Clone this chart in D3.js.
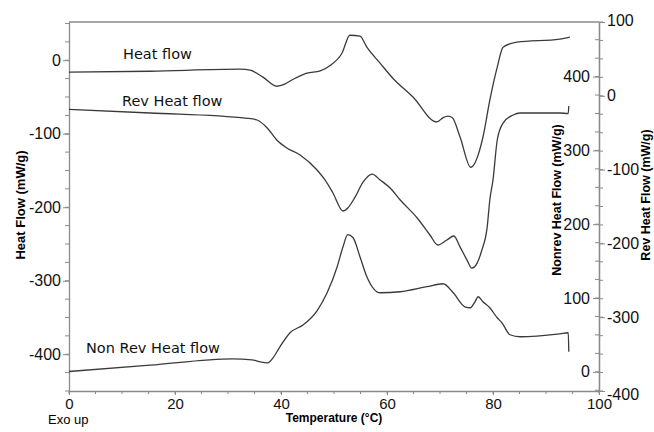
<!DOCTYPE html>
<html><head><meta charset="utf-8">
<script src="https://cdn.jsdelivr.net/npm/d3@7"></script>
<style>
body{margin:0;background:#fff;}
svg{display:block;}
.tick text{font-family:"Liberation Sans",Arial,sans-serif;font-size:16px;fill:#111;}
</style></head>
<body><svg id="c" width="654" height="432"></svg>
<script>
// Temperature (°C)
const heatT = [0,15.3,32.3,34.2,36.6,39.2,40.2,42.3,44.9,47.4,49.2,51.5,53.0,54.9,56.2,58.7,61.1,64.9,69.4,70.6,71.5,72.3,73.8,75.8,78.1,79.4,80.8,81.9,84.5,92.6,94.5];
// Heat flow (mW/g), left axis
const heatV = [-16.3,-15,-12.2,-13.6,-23,-35.4,-34,-25.9,-17.7,-14.6,-7.5,9.5,34,32.7,17.7,-4,-24.5,-50,-84,-78,-76,-78,-104.8,-145.6,-104.8,-54.4,-9.5,17.7,24.5,28.6,31.3];

const revT = [0,15.3,33.6,35.5,37.4,39.2,41.1,43.6,46.8,48.3,49.8,51.7,52.6,54,55.5,57.2,58.7,60.6,62.5,65.7,68.1,69.6,71.3,72.6,73.8,75.1,76,77,77.9,78.9,79.4,80,80.8,81.9,83.8,85.1,92.6,94.2,94.3];
// Rev heat flow (mW/g), right outer axis
const revV = [-18.3,-23.3,-30.5,-32.8,-43.6,-59.9,-70.7,-80.2,-100.5,-114,-131.7,-156.1,-152,-137,-116.8,-106,-114,-125,-141.2,-165.6,-188.6,-202.2,-195.4,-190,-205,-222.6,-233.4,-226.7,-209,-178,-141.2,-114,-59.9,-36.9,-26,-23.3,-23.3,-24,-13.8];

const nonT = [0,15.3,30.9,34.5,36,37.5,38.5,39.8,41.7,44.2,46.8,48.7,50.6,51.7,52.6,53.6,54.9,56.2,58.7,62.5,67.5,70.6,72.5,74.7,75.7,76.6,77.2,78.1,79.4,80.8,81.7,83.2,85.1,92.6,94.2,94.3];
// Nonrev heat flow (mW/g), right inner axis
const nonV = [0.4,9,17.6,16.3,13.6,12.2,19,33.9,52.9,63.7,82.7,107,142.4,169.5,185.8,181.7,156,128.8,107.1,108.5,115.3,119.3,107.1,88.1,86.8,94.9,101.7,94.9,86.8,73.2,66.4,50.2,47.5,51.5,52.9,27.1];

const xTicks = [0,20,40,60,80,100];
const leftTicks = [-400,-300,-200,-100,0];
const nonTicks = [0,100,200,300,400];
const revTicks = [-400,-300,-200,-100,0,100];

const curveLabels = ["Heat flow","Rev Heat flow","Non Rev Heat flow"];

const svg = d3.select("#c");
const L = 69, R = 599, T = 22, B = 391;
const x = d3.scaleLinear().domain([0,100]).range([L,R]);
const yL = d3.scaleLinear().domain([-450,52]).range([B,T]);
const yN = d3.scaleLinear().domain([-26,474]).range([B,T]);
const yR = d3.scaleLinear().domain([-400,100]).range([B,T]);

const axisCol = "#8a8a8a";
function styleAxis(g){
  g.selectAll(".domain").attr("stroke",axisCol).attr("stroke-width",1.3);
  g.selectAll(".tick line").attr("stroke",axisCol).attr("stroke-width",1);
}
function minor(step, dom){ return d3.range(Math.ceil(dom[0]/step)*step, dom[1]+0.001, step); }

// top border
svg.append("line").attr("x1",L).attr("x2",R).attr("y1",T).attr("y2",T).attr("stroke",axisCol).attr("stroke-width",1.3);

// minor ticks
const gm = svg.append("g").attr("stroke",axisCol).attr("stroke-width",1);
minor(5,[0,100]).forEach(v=>gm.append("line").attr("x1",x(v)).attr("x2",x(v)).attr("y1",B).attr("y2",B+3));
minor(25,[-450,52]).forEach(v=>gm.append("line").attr("x1",L).attr("x2",L-4).attr("y1",yL(v)).attr("y2",yL(v)));
minor(25,[-26,474]).forEach(v=>gm.append("line").attr("x1",R).attr("x2",R-4).attr("y1",yN(v)).attr("y2",yN(v)));
minor(25,[-400,100]).forEach(v=>gm.append("line").attr("x1",R).attr("x2",R+4).attr("y1",yR(v)).attr("y2",yR(v)));

const gx = svg.append("g").attr("transform",`translate(0,${B})`)
  .call(d3.axisBottom(x).tickValues(xTicks).tickSizeInner(4).tickSizeOuter(0).tickPadding(3).tickFormat(d3.format("d")));
styleAxis(gx);
gx.selectAll(".tick text").style("font-size","15px");
const gl = svg.append("g").attr("transform",`translate(${L},0)`)
  .call(d3.axisLeft(yL).tickValues(leftTicks).tickSizeInner(6).tickSizeOuter(0).tickPadding(2));
styleAxis(gl);
const gn = svg.append("g").attr("transform",`translate(${R},0)`)
  .call(d3.axisLeft(yN).tickValues(nonTicks).tickSizeInner(6).tickSizeOuter(0).tickPadding(3).tickFormat(d3.format("d")));
styleAxis(gn);
const gr = svg.append("g").attr("transform",`translate(${R},0)`)
  .call(d3.axisRight(yR).tickValues(revTicks).tickSizeInner(6).tickSizeOuter(0).tickPadding(2));
styleAxis(gr);
gl.selectAll(".tick text").text(d=>String(d));
gr.selectAll(".tick text").text(d=>String(d));
gr.selectAll(".tick").filter(d=>d===-400).select("text").attr("dy","0.5em");
gr.selectAll(".tick").filter(d=>d===100).select("text").attr("dy","0.2em");

// curves
const line = (xs, ys, ysc) => d3.line().curve(d3.curveMonotoneX)
  .x((d,i)=>x(xs[i])).y((d,i)=>ysc(ys[i]))(xs);
const lc = "#3a3a3a";
svg.append("path").attr("d",line(heatT,heatV,yL)).attr("fill","none").attr("stroke",lc).attr("stroke-width",1.3);
svg.append("path").attr("d",line(revT,revV,yR)).attr("fill","none").attr("stroke",lc).attr("stroke-width",1.3);
svg.append("path").attr("d",line(nonT,nonV,yN)).attr("fill","none").attr("stroke",lc).attr("stroke-width",1.3);

// curve labels
const lf = "'DejaVu Sans',Verdana,sans-serif";
svg.append("text").attr("x",123).attr("y",59).text(curveLabels[0]).attr("font-family",lf).attr("font-size",14.5).attr("fill","#111");
svg.append("text").attr("x",122).attr("y",106).text(curveLabels[1]).attr("font-family",lf).attr("font-size",14.5).attr("fill","#111");
svg.append("text").attr("x",86).attr("y",353).text(curveLabels[2]).attr("font-family",lf).attr("font-size",14.5).attr("fill","#111");

// axis titles
const af = "'Liberation Sans',Arial,sans-serif";
svg.append("text").attr("x",334).attr("y",422).attr("text-anchor","middle").attr("font-family",af).attr("font-weight","bold").attr("font-size",12).text("Temperature (°C)");
svg.append("text").attr("x",48).attr("y",424).attr("font-family",af).attr("font-size",13).text("Exo up");
svg.append("text").attr("transform","translate(25,205) rotate(-90)").attr("text-anchor","middle").attr("font-family",af).attr("font-weight","bold").attr("font-size",13).text("Heat Flow (mW/g)");
svg.append("text").attr("transform","translate(561,200) rotate(-90)").attr("text-anchor","middle").attr("font-family",af).attr("font-weight","bold").attr("font-size",12.5).text("Nonrev Heat Flow (mW/g)");
svg.append("text").attr("transform","translate(650,195) rotate(-90)").attr("text-anchor","middle").attr("font-family",af).attr("font-weight","bold").attr("font-size",12.5).text("Rev Heat Flow (mW/g)");
</script></body></html>
